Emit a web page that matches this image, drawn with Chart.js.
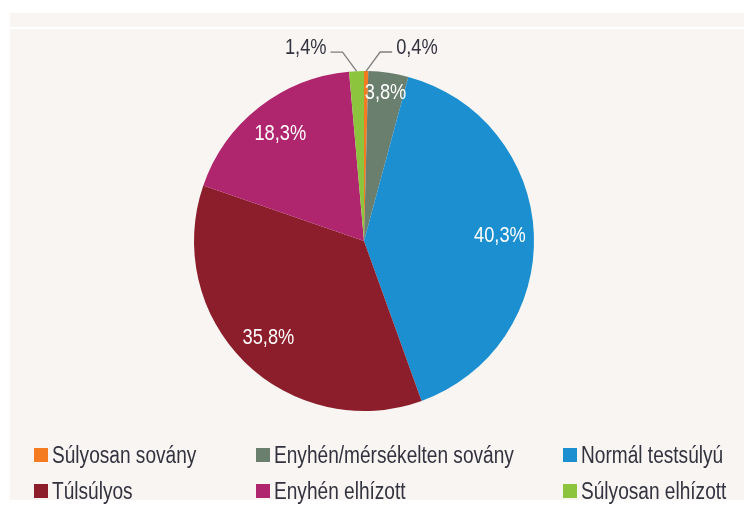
<!DOCTYPE html>
<html>
<head>
<meta charset="utf-8">
<script src="https://cdn.jsdelivr.net/npm/chart.js@4/dist/chart.umd.min.js"></script>
<style>
  html, body { margin: 0; padding: 0; background: #ffffff; }
  body { width: 744px; height: 506px; position: relative; overflow: hidden; }
  #panel { position: absolute; left: 10px; top: 13px; width: 734px; height: 487px; background: #f8f5f2; }
  #panelLine { position: absolute; left: 10px; top: 27px; width: 734px; height: 2px; background: #ffffff; }
  #chart { position: absolute; left: 0; top: 0; }
  #legend { position: absolute; left: 34px; top: 437px; display: grid;
            grid-template-columns: 222px 307px 170px; grid-auto-rows: 36px;
            font-family: "Liberation Sans", Arial, sans-serif;
            font-size: 23px; color: #33333f; }
  .item { display: flex; align-items: center; white-space: nowrap; }
  .box { width: 14px; height: 14px; margin-right: 4px; flex: none; }
  .txt { display: inline-block; transform: scaleX(0.83); transform-origin: 0 50%; }
</style>
</head>
<body>
<div id="panel"></div>
<div id="panelLine"></div>
<canvas id="chart" width="744" height="506"></canvas>
<div id="legend"></div>
<script>
const categories = ["Súlyosan sovány", "Enyhén/mérsékelten sovány", "Normál testsúlyú", "Túlsúlyos", "Enyhén elhízott", "Súlyosan elhízott"];
const values = [0.4, 3.8, 40.3, 35.8, 18.3, 1.4];
const valueLabels = ["0,4%", "3,8%", "40,3%", "35,8%", "18,3%", "1,4%"];
const colors = ["#f47b20", "#6b7f6e", "#1b8fd0", "#8c1d2a", "#b0266e", "#8dc43e"];
// legend order (row-major, 3 columns)
const legendOrder = [0, 1, 2, 3, 4, 5];

const FONT = '"Liberation Sans", Arial, sans-serif';
const SQUEEZE = 0.83;

const labelPlugin = {
  id: 'sliceLabels',
  afterDatasetsDraw(chart) {
    const ctx = chart.ctx;
    const meta = chart.getDatasetMeta(0);
    meta.data.forEach((arc, i) => {
      const p = arc.getProps(['x', 'y', 'startAngle', 'endAngle', 'outerRadius'], true);
      const mid = (p.startAngle + p.endAngle) / 2;
      const R = p.outerRadius;
      const cos = Math.cos(mid), sin = Math.sin(mid);
      ctx.save();
      ctx.font = '22px ' + FONT;
      ctx.textBaseline = 'middle';
      if (values[i] < 2) {
        const side = cos >= 0 ? 1 : -1;
        const sx = p.x + cos * R, sy = p.y + sin * R;
        const ex = sx + side * 14, ey = sy - 19;
        const hx = ex + side * 12;
        ctx.strokeStyle = '#7f7f7f';
        ctx.lineWidth = 1.3;
        ctx.beginPath();
        ctx.moveTo(sx, sy);
        ctx.lineTo(ex, ey);
        ctx.lineTo(hx, ey);
        ctx.stroke();
        ctx.fillStyle = '#33333f';
        ctx.textAlign = side > 0 ? 'left' : 'right';
        ctx.translate(hx + side * 4, ey - 4);
        ctx.scale(SQUEEZE, 1);
        ctx.fillText(valueLabels[i], 0, 0);
      } else {
        const f = values[i] < 5 ? 0.88 : 0.8;
        ctx.fillStyle = '#ffffff';
        ctx.textAlign = 'center';
        ctx.translate(p.x + cos * R * f, p.y + sin * R * f);
        ctx.scale(SQUEEZE, 1);
        ctx.fillText(valueLabels[i], 0, 0);
      }
      ctx.restore();
    });
  }
};

new Chart(document.getElementById('chart'), {
  type: 'pie',
  data: {
    labels: categories,
    datasets: [{ data: values, backgroundColor: colors, borderWidth: 0 }]
  },
  options: {
    responsive: false,
    animation: false,
    devicePixelRatio: 1,
    layout: { padding: { left: 194, right: 210, top: 71, bottom: 95 } },
    plugins: { legend: { display: false }, tooltip: { enabled: false } }
  },
  plugins: [labelPlugin]
});

const legend = document.getElementById('legend');
legendOrder.forEach(i => {
  const item = document.createElement('div');
  item.className = 'item';
  const box = document.createElement('span');
  box.className = 'box';
  box.style.background = colors[i];
  const txt = document.createElement('span');
  txt.className = 'txt';
  txt.textContent = categories[i];
  item.appendChild(box);
  item.appendChild(txt);
  legend.appendChild(item);
});
</script>
</body>
</html>
